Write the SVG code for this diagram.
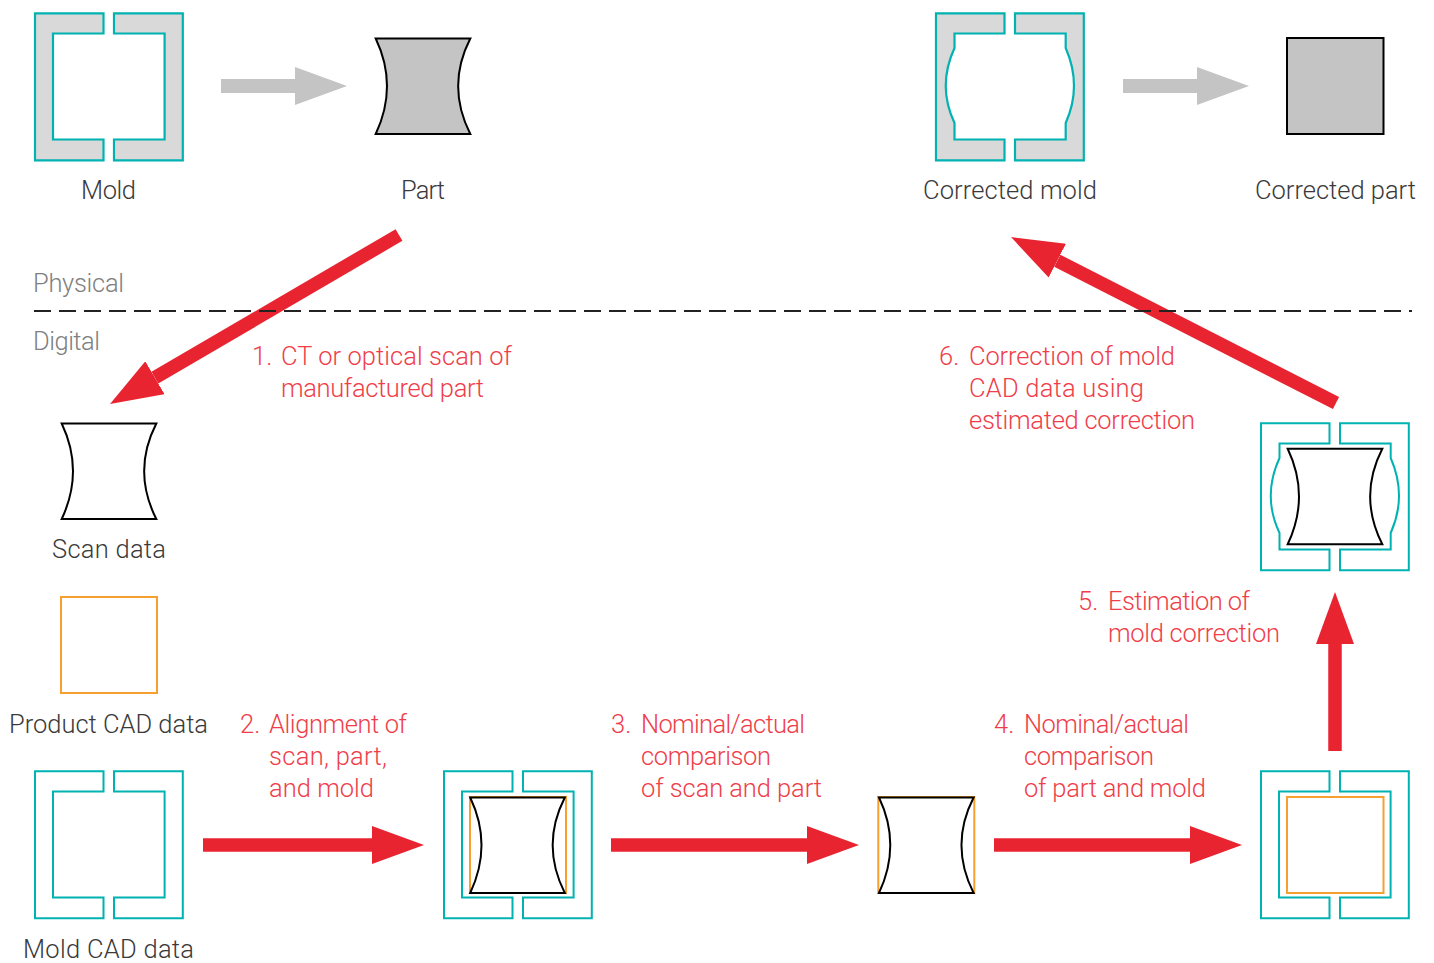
<svg xmlns="http://www.w3.org/2000/svg" width="1434" height="963" viewBox="0 0 1434 963">
<style>
text{font-family:"Roboto","Liberation Sans",sans-serif;font-weight:300;font-size:25.5px}
.k{fill:#3a3a3a}.g{fill:#808080}.r{fill:#ef3e4a}
.t{fill:none;stroke:#00b2b2;stroke-width:2}
.tf{fill:#d9d9d9;stroke:#00b2b2;stroke-width:2.2}
.b{fill:#fff;stroke:#000;stroke-width:2}
.bf{fill:#c4c4c4;stroke:#000;stroke-width:2}
.o{fill:none;stroke:#f7a030;stroke-width:2}
.red{fill:none;stroke:#e92431;stroke-width:13.5}
.grey{fill:none;stroke:#c4c4c4;stroke-width:14}
</style>
<defs>
<marker id="hr" markerUnits="userSpaceOnUse" markerWidth="52" markerHeight="38" viewBox="0 0 52 38" refX="0" refY="19" orient="auto"><path d="M0,0L52,19L0,38Z" fill="#e92431"/></marker>
<marker id="hg" markerUnits="userSpaceOnUse" markerWidth="52" markerHeight="38" viewBox="0 0 52 38" refX="0" refY="19" orient="auto"><path d="M0,0L52,19L0,38Z" fill="#c4c4c4"/></marker>
<path id="ml" d="M103.500,13.300H35V160.300H103.500V139.500H53V33.500H103.500Z"/>
<path id="mr" d="M114,13.300H182.800V160.300H114V139.500H164.600V33.500H114Z"/>
<path id="cl" d="M103.500,13.300H35V160.300H103.500V139.500H53.500V123Q36,86 53.500,48V33.500H103.500Z"/>
<path id="cr" d="M114,13.300H182.800V160.300H114V139.500H164.700V123Q181.300,86 164.700,48V33.500H114Z"/>
<path id="p" d="M375.700,38.500H470.300Q446,86 470.300,134H375.700Q398.300,86 375.700,38.500Z"/>
</defs>

<g id="connectors">
<path class="grey" d="M221,86H295" marker-end="url(#hg)"/>
<path class="grey" d="M1123,86H1197" marker-end="url(#hg)"/>
<path class="red" d="M399,235L154.900,377.700" marker-end="url(#hr)"/>
<path class="red" d="M203,845H372" marker-end="url(#hr)"/>
<path class="red" d="M611,845H807" marker-end="url(#hr)"/>
<path class="red" d="M994,845H1190" marker-end="url(#hr)"/>
<path class="red" d="M1335,751V644" marker-end="url(#hr)"/>
<path class="red" d="M1336,403L1057.300,260.700" marker-end="url(#hr)"/>
</g>

<g id="divider">
<path d="M34,311H1412" stroke="#222" stroke-width="2" stroke-dasharray="17 8" fill="none"/>
<text class="g" x="33" y="292" textLength="91">Physical</text>
<text class="g" x="33" y="350" textLength="67">Digital</text>
</g>

<g id="mold"><use href="#ml" class="tf"/><use href="#mr" class="tf"/><text class="k" x="81" y="199" textLength="55">Mold</text></g>
<g id="part"><use href="#p" class="bf"/><text class="k" x="401" y="199" textLength="44">Part</text></g>
<g id="corrected-mold"><g transform="translate(901,0)"><use href="#cl" class="tf"/><use href="#cr" class="tf"/></g><text class="k" x="923" y="199" textLength="174">Corrected mold</text></g>
<g id="corrected-part"><rect x="1287" y="38" width="96.500" height="96" class="bf"/><text class="k" x="1255" y="199" textLength="161">Corrected part</text></g>

<g id="scan-data"><use href="#p" class="b" transform="translate(-314,385)"/><text class="k" x="52" y="558" textLength="114">Scan data</text></g>
<g id="product-cad"><rect x="61" y="597" width="96" height="96" class="o"/><text class="k" x="9" y="733" textLength="199">Product CAD data</text></g>
<g id="mold-cad"><g transform="translate(0,758)"><use href="#ml" class="t"/><use href="#mr" class="t"/></g><text class="k" x="23" y="958" textLength="171">Mold CAD data</text></g>

<g id="aligned"><g transform="translate(409,758)"><use href="#ml" class="t"/><use href="#mr" class="t"/></g><rect x="470" y="797" width="96" height="96" class="o"/><use href="#p" class="b" transform="translate(94.500,759)"/></g>
<g id="scan-part"><rect x="878.300" y="797" width="96" height="96" class="o"/><use href="#p" class="b" transform="translate(503.300,759)"/></g>
<g id="part-mold"><g transform="translate(1226,758)"><use href="#ml" class="t"/><use href="#mr" class="t"/></g><rect x="1287" y="797" width="96.500" height="96" class="o"/></g>
<g id="estimated"><g transform="translate(1226,410)"><use href="#cl" class="t"/><use href="#cr" class="t"/></g><use href="#p" class="b" transform="translate(912,410.300)"/></g>

<g id="labels">
<text class="r" x="252" y="365">1.</text><text class="r" x="281" y="365" textLength="231">CT or optical scan of</text>
<text class="r" x="281" y="397" textLength="203">manufactured part</text>
<text class="r" x="240" y="733">2.</text><text class="r" x="269" y="733" textLength="138">Alignment of</text>
<text class="r" x="269" y="765" textLength="118">scan, part,</text>
<text class="r" x="269" y="797" textLength="105">and mold</text>
<text class="r" x="611" y="733">3.</text><text class="r" x="641" y="733" textLength="164">Nominal/actual</text>
<text class="r" x="641" y="765" textLength="130">comparison</text>
<text class="r" x="641" y="797" textLength="181">of scan and part</text>
<text class="r" x="994" y="733">4.</text><text class="r" x="1024" y="733" textLength="165">Nominal/actual</text>
<text class="r" x="1024" y="765" textLength="130">comparison</text>
<text class="r" x="1024" y="797" textLength="182">of part and mold</text>
<text class="r" x="1078" y="610">5.</text><text class="r" x="1108" y="610" textLength="142">Estimation of</text>
<text class="r" x="1108" y="642" textLength="172">mold correction</text>
<text class="r" x="939" y="365">6.</text><text class="r" x="969" y="365" textLength="206">Correction of mold</text>
<text class="r" x="969" y="397" textLength="175">CAD data using</text>
<text class="r" x="969" y="429" textLength="226">estimated correction</text>
</g>
</svg>
